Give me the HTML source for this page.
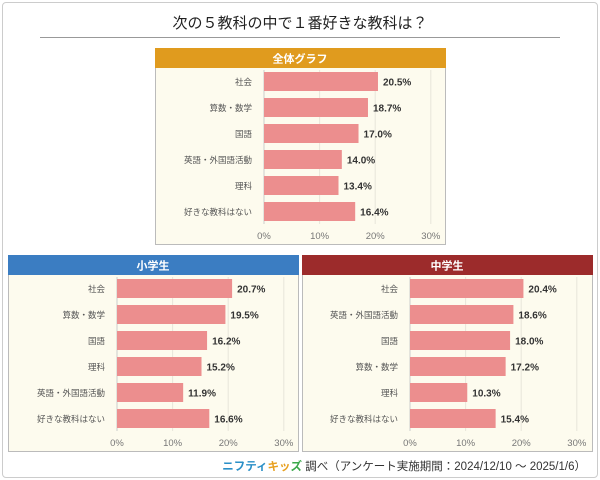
<!DOCTYPE html>
<html><head><meta charset="utf-8">
<style>
body{margin:0;width:600px;height:480px;background:#fff;font-family:"Liberation Sans","Noto Sans CJK JP",sans-serif;position:relative;overflow:hidden}
#frame{position:absolute;left:2px;top:2px;width:594px;height:474px;border:1px solid #ccc;border-radius:4px}
#title{position:absolute;left:0;width:600px;top:12px;text-align:center;font-size:15px;color:#222}
#rule{position:absolute;left:40px;width:520px;top:37px;height:1px;background:#999}
#footer{position:absolute;right:14px;top:458px;font-size:11.5px;color:#333}
svg{position:absolute;left:0;top:0}
</style></head><body>
<div id="frame"></div>
<div id="title">次の５教科の中で１番好きな教科は？</div>
<div id="rule"></div>
<svg id="chart" width="600" height="480"></svg>
<div id="footer"><span style="color:#2a8fc7;font-weight:bold">ニフティ</span><span style="color:#e8a020;font-weight:bold">キッ</span><span style="color:#3aa84a;font-weight:bold">ズ</span> 調べ（アンケート実施期間：2024/12/10 ～ 2025/1/6）</div>
<script>
const totalCategories=["社会","算数・数学","国語","英語・外国語活動","理科","好きな教科はない"];
const totalValues=[20.5,18.7,17.0,14.0,13.4,16.4];
const elemCategories=["社会","算数・数学","国語","理科","英語・外国語活動","好きな教科はない"];
const elemValues=[20.7,19.5,16.2,15.2,11.9,16.6];
const juniorCategories=["社会","英語・外国語活動","国語","算数・数学","理科","好きな教科はない"];
const juniorValues=[20.4,18.6,18.0,17.2,10.3,15.4];
const tickValues=[0,10,20,30];
const tickLabels=["0%","10%","20%","30%"];
const NS="http://www.w3.org/2000/svg";
const svg=document.getElementById('chart');
function mk(tag,attrs,parent){const e=document.createElementNS(NS,tag);for(const k in attrs)e.setAttribute(k,attrs[k]);(parent||svg).appendChild(e);return e;}
function panel(key,title,color,px,py,cats,vals,x0){
  const g=mk('g',{});
  
  
  const W=290,H=196;
  const body=mk('rect',{x:px+0.5,y:py+0.5,width:W,height:H,fill:'#fdfbee',stroke:'#bbb'},g);
  
  
  const hd=mk('rect',{x:px,y:py,width:W+1,height:20,fill:color},g);
  
  
  const ht=mk('text',{x:px+W/2,y:py+14.5,'text-anchor':'middle','font-size':11,'font-weight':'bold',fill:'#fff'},g);
  ht.textContent=title;
  
  
  const unit=55.6;
  const xs=v=>x0+v/10*unit;
  const top=py+24,step=26,bh=19;
  tickValues.forEach((t,i)=>{
    const l=mk('line',{x1:xs(t),x2:xs(t),y1:top-2,y2:top+step*6-4,stroke:t===0?'#ccc':'#e8e6da','stroke-width':1},g);
    
    
    const tl=mk('text',{x:xs(t),y:py+191,'text-anchor':'middle','font-size':9.5,fill:'#777'},g);
    tl.textContent=tickLabels[i];
    
    
  });
  cats.forEach((c,i)=>{
    const y=top+i*step;
    const r=mk('rect',{x:xs(0),y:y,width:xs(vals[i])-xs(0),height:bh,fill:'#ec8e8e'},g);
    
    
    const cl=mk('text',{x:x0-12,y:y+bh/2+3.5,'text-anchor':'end','font-size':8.5,fill:'#555'},g);
    cl.textContent=c;
    
    
    const vl=mk('text',{x:xs(vals[i])+5,y:y+bh/2+4,'font-size':10,'font-weight':'bold',fill:'#333'},g);
    vl.textContent=vals[i].toFixed(1)+'%';
    
    
  });
}
panel('total','全体グラフ','#e09b1e',155,48,totalCategories,totalValues,264);
panel('elementary','小学生','#3b7dc2',8,255,elemCategories,elemValues,117);
panel('junior-high','中学生','#9c2b2b',302,255,juniorCategories,juniorValues,410);
</script>
</body></html>
